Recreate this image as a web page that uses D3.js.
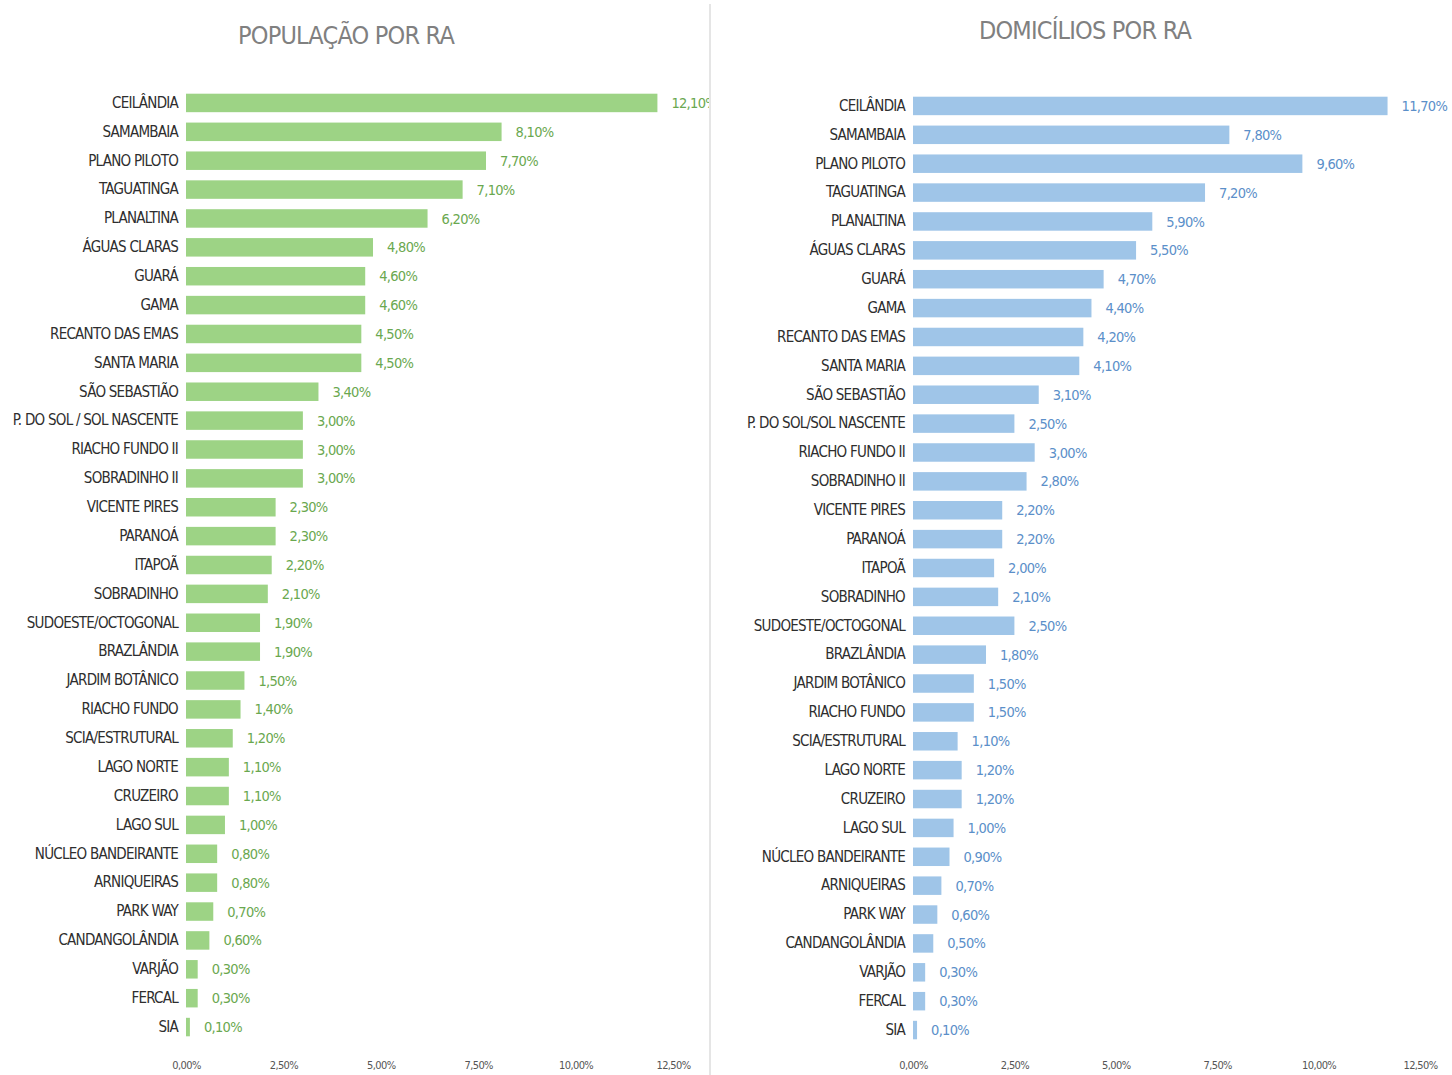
<!DOCTYPE html>
<html>
  <head>
    <meta charset="utf-8">
    <title>População e domicílios por RA</title>
    <script src="https://d3js.org/d3.v7.min.js"></script>
    <style>
      body { margin: 0; background: #fff; }
      text { font-family: "DejaVu Sans Condensed", "Liberation Sans Narrow", "Roboto", sans-serif; font-stretch: condensed; }
    </style>
  </head>
  <body>
    <script type="text/javascript">
      // regiões administrativas, na ordem do gráfico
      var raPop = ['CEILÂNDIA', 'SAMAMBAIA', 'PLANO PILOTO', 'TAGUATINGA', 'PLANALTINA', 'ÁGUAS CLARAS',
        'GUARÁ', 'GAMA', 'RECANTO DAS EMAS', 'SANTA MARIA', 'SÃO SEBASTIÃO', 'P. DO SOL / SOL NASCENTE',
        'RIACHO FUNDO II', 'SOBRADINHO II', 'VICENTE PIRES', 'PARANOÁ', 'ITAPOÃ', 'SOBRADINHO',
        'SUDOESTE/OCTOGONAL', 'BRAZLÂNDIA', 'JARDIM BOTÂNICO', 'RIACHO FUNDO', 'SCIA/ESTRUTURAL',
        'LAGO NORTE', 'CRUZEIRO', 'LAGO SUL', 'NÚCLEO BANDEIRANTE', 'ARNIQUEIRAS', 'PARK WAY',
        'CANDANGOLÂNDIA', 'VARJÃO', 'FERCAL', 'SIA'];
      var raDom = raPop.map(function (d) { return d === 'P. DO SOL / SOL NASCENTE' ? 'P. DO SOL/SOL NASCENTE' : d; });

      var populacao = [12.1, 8.1, 7.7, 7.1, 6.2, 4.8, 4.6, 4.6, 4.5, 4.5, 3.4, 3.0, 3.0, 3.0, 2.3, 2.3, 2.2,
        2.1, 1.9, 1.9, 1.5, 1.4, 1.2, 1.1, 1.1, 1.0, 0.8, 0.8, 0.7, 0.6, 0.3, 0.3, 0.1];
      var domicilios = [11.7, 7.8, 9.6, 7.2, 5.9, 5.5, 4.7, 4.4, 4.2, 4.1, 3.1, 2.5, 3.0, 2.8, 2.2, 2.2, 2.0,
        2.1, 2.5, 1.8, 1.5, 1.5, 1.1, 1.2, 1.2, 1.0, 0.9, 0.7, 0.6, 0.5, 0.3, 0.3, 0.1];
      var ticks = [0, 2.5, 5, 7.5, 10, 12.5];

      var fmt = function (v) { return v.toFixed(2).replace('.', ',') + '%'; };

      var svg = d3.select('body').append('svg')
        .attr('width', 1452)
        .attr('height', 1075);

      // divisória entre os dois painéis
      svg.append('line')
        .attr('x1', 710).attr('x2', 710).attr('y1', 4).attr('y2', 1075)
        .attr('stroke', '#dcdcdc').attr('stroke-width', 1.5);

      svg.append('clipPath').attr('id', 'clipLeft')
        .append('rect').attr('x', 0).attr('y', 0).attr('width', 709).attr('height', 1075);

      function painel(opt) {
        var g = svg.append('g').attr('clip-path', opt.clip ? 'url(#' + opt.clip + ')' : null);

        var x = d3.scaleLinear().domain([0, 12.5]).range([opt.x0, opt.x1]);
        var y = d3.scaleBand().domain(opt.cats).range([opt.yTop, opt.yBot]).paddingInner(0.36).paddingOuter(0.18);

        g.append('text')
          .attr('x', opt.titleX).attr('y', opt.titleY)
          .attr('text-anchor', 'middle')
          .attr('fill', '#808080')
          .style('font-size', '25px')
          .style('letter-spacing', '-0.8px')
          .text(opt.title);

        g.selectAll('rect.bar')
          .data(opt.values)
          .enter().append('rect')
          .attr('class', 'bar')
          .attr('x', x(0))
          .attr('y', function (d, i) { return y(opt.cats[i]); })
          .attr('width', function (d) { return x(d) - x(0); })
          .attr('height', y.bandwidth())
          .attr('fill', opt.color);

        g.selectAll('text.val')
          .data(opt.values)
          .enter().append('text')
          .attr('class', 'val')
          .attr('x', function (d) { return x(d) + 14; })
          .attr('y', function (d, i) { return y(opt.cats[i]) + y.bandwidth() / 2; })
          .attr('dy', '0.35em')
          .attr('fill', opt.valColor)
          .style('font-size', '14.5px')
          .style('letter-spacing', '-0.7px')
          .text(fmt);

        var yAxis = d3.axisLeft(y).tickSize(0).tickPadding(8);
        var ya = g.append('g').attr('transform', 'translate(' + x(0) + ',0)').call(yAxis);
        ya.select('.domain').remove();
        ya.selectAll('text').attr('fill', '#2e2e2e').style('font-size', '15px').style('letter-spacing', '-0.75px');

        var xAxis = d3.axisBottom(x).tickValues(ticks).tickSize(0).tickFormat(fmt);
        var xa = g.append('g').attr('transform', 'translate(0,' + opt.axisY + ')').call(xAxis);
        xa.select('.domain').remove();
        xa.selectAll('text').attr('fill', '#555555').style('font-size', '11px').style('letter-spacing', '-0.6px');
      }

      painel({
        title: 'POPULAÇÃO POR RA', titleX: 346, titleY: 44,
        cats: raPop, values: populacao,
        x0: 186, x1: 673, yTop: 88.5, yBot: 1041.5, axisY: 1058,
        color: '#9dd385', valColor: '#6aa84f', clip: 'clipLeft'
      });

      painel({
        title: 'DOMICÍLIOS POR RA', titleX: 1085, titleY: 39,
        cats: raDom, values: domicilios,
        x0: 913, x1: 1420, yTop: 91.5, yBot: 1044.5, axisY: 1058,
        color: '#9fc5e8', valColor: '#5b8fc9', clip: null
      });
    </script>
  </body>
</html>
